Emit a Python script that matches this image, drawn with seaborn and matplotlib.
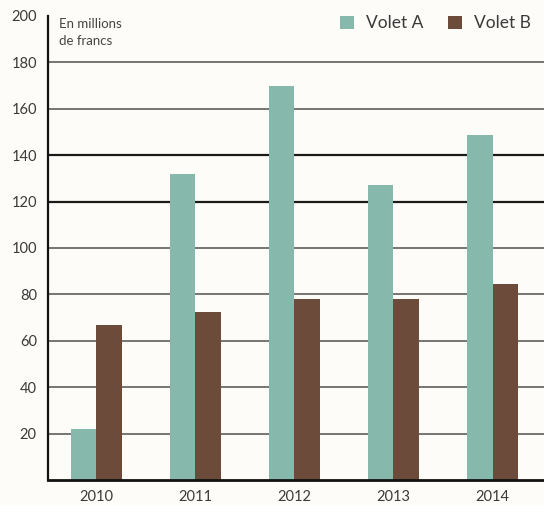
import matplotlib
matplotlib.use("Agg")
import matplotlib.pyplot as plt
import seaborn as sns
import pandas as pd

years = ["2010", "2011", "2012", "2013", "2014"]
volet_a = [22, 132, 170, 127, 148.5]
volet_b = [67, 72.5, 78, 78, 84.5]
series_names = ["Volet A", "Volet B"]
y_ticks = [20, 40, 60, 80, 100, 120, 140, 160, 180, 200]

df = pd.DataFrame({
    "year": years * 2,
    "value": volet_a + volet_b,
    "serie": [series_names[0]] * len(years) + [series_names[1]] * len(years),
})

sns.set_theme(style="white")
plt.rcParams["font.family"] = ["Lato", "DejaVu Sans"]

bg = "#fdfcf9"
fig = plt.figure(figsize=(5.44, 5.05), dpi=100, facecolor=bg)
ax = fig.add_axes([0.088, 0.0495, 0.912, 0.919])
ax.set_facecolor(bg)

palette = {"Volet A": "#86b9ab", "Volet B": "#6c4b3b"}
sns.barplot(data=df, x="year", y="value", hue="serie", palette=palette,
            width=0.52, saturation=1, ax=ax, zorder=3, legend=True,
            linewidth=0)

ax.set_ylim(0, 200)
ax.set_xlim(-0.49, 4.52)

for v in y_ticks[:-1]:
    dark = v in (120, 140)
    ax.axhline(v, color="#1a1a1a" if dark else "#6a6a6a",
               lw=1.6 if dark else 1.3, zorder=1)

ax.set_yticks(y_ticks)
ax.set_yticklabels([str(v) for v in y_ticks])
ax.tick_params(axis="y", length=0, pad=8, labelsize=10.5, labelcolor="#3a3a3a")
ax.tick_params(axis="x", length=0, pad=7, labelsize=10.5, labelcolor="#3a3a3a")
ax.set_xlabel("")
ax.set_ylabel("")

for s in ["top", "right"]:
    ax.spines[s].set_visible(False)
ax.spines["left"].set_color("#111111")
ax.spines["left"].set_linewidth(1.6)
ax.spines["bottom"].set_color("#111111")
ax.spines["bottom"].set_linewidth(2.0)
ax.spines["left"].set_zorder(4)
ax.spines["bottom"].set_zorder(4)

ax.text(0.022, 0.995, "En millions\nde francs", transform=ax.transAxes,
        ha="left", va="top", fontsize=9.5, color="#444444", linespacing=1.5)

handles, labels = ax.get_legend_handles_labels()
ax.legend(handles, labels, loc="upper right", bbox_to_anchor=(1.005, 1.035),
          ncol=2, frameon=False, fontsize=12.5, handlelength=0.8,
          handleheight=0.8, columnspacing=1.4, handletextpad=0.7,
          labelcolor="#3a3a3a")

fig.savefig("out.png", dpi=100, facecolor=bg)
